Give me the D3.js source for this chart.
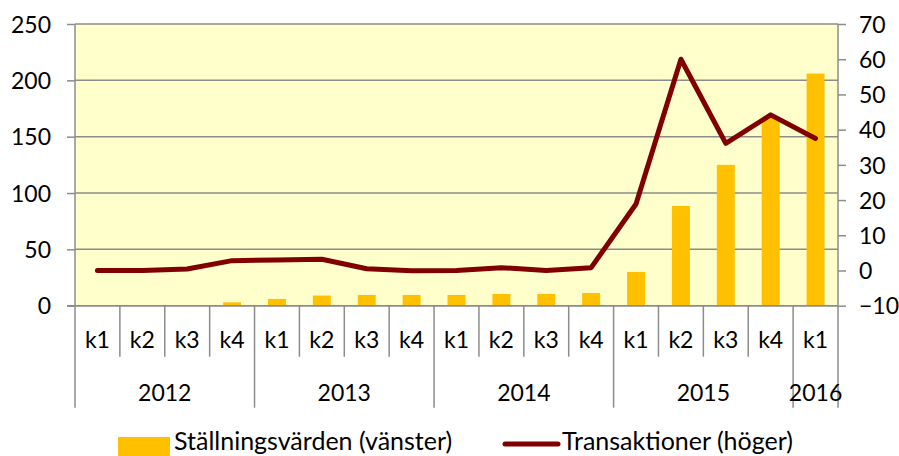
<!DOCTYPE html>
<html>
<head>
<meta charset="utf-8">
<script src="https://cdn.jsdelivr.net/npm/d3@7"></script>
<style>
  body { margin: 0; background: #fff; }
  svg { display: block; }
  text { font-family: Lato, "Open Sans", sans-serif; fill: #000; }
</style>
</head>
<body>
<svg id="chart" width="899" height="456"></svg>
<script>
// quarters and years
var quarters = ["k1","k2","k3","k4","k1","k2","k3","k4","k1","k2","k3","k4","k1","k2","k3","k4","k1"];
var years = ["2012","2013","2014","2015","2016"];
var yearSpans = [4, 4, 4, 4, 1];

// Ställningsvärden (vänster axel)
var positionValues = [0, 0, 0, 3, 6, 9, 9.5, 9.5, 9.5, 10.4, 10.4, 11.3, 30, 88.5, 125, 167, 206];
// Transaktioner (höger axel)
var transactionValues = [0, 0, 0.4, 2.8, 3.0, 3.2, 0.5, -0.1, 0, 0.8, 0, 0.8, 18.9, 60, 36.1, 44.2, 37.5];

var leftTicks = [0, 50, 100, 150, 200, 250];
var rightTicks = [-10, 0, 10, 20, 30, 40, 50, 60, 70];

var legendLabels = ["Ställningsvärden (vänster)", "Transaktioner (höger)"];

var margin = { left: 75, right: 61, top: 24, bottom: 150 };
var W = 899, H = 456;
var plotW = W - margin.left - margin.right;
var plotH = 305.7 - margin.top;
var tickFont = "23px";

var svg = d3.select("#chart");
var g = svg.append("g").attr("transform", "translate(" + margin.left + "," + margin.top + ")");

var idx = d3.range(quarters.length);
var x = d3.scaleBand().domain(idx).range([0, plotW]).padding(0);
var yL = d3.scaleLinear().domain([0, 250]).range([plotH, 0]);
var yR = d3.scaleLinear().domain([-10, 70]).range([plotH, 0]);

// plot background
g.append("rect")
  .attr("width", plotW).attr("height", plotH)
  .attr("fill", "#ffffcc");

// gridlines
g.selectAll("line.grid")
  .data(leftTicks)
  .enter().append("line")
  .attr("class", "grid")
  .attr("x1", 0).attr("x2", plotW)
  .attr("y1", function(d){ return yL(d); })
  .attr("y2", function(d){ return yL(d); })
  .attr("stroke", "#8c8c8c").attr("stroke-width", 1.5);

// left axis line
g.append("line").attr("x1", 0).attr("x2", 0).attr("y1", 0).attr("y2", plotH)
  .attr("stroke", "#8c8c8c").attr("stroke-width", 1.5);

// left axis
var leftAxis = g.append("g")
  .call(d3.axisLeft(yL).tickValues(leftTicks).tickSize(8).tickPadding(16));
leftAxis.select(".domain").remove();
leftAxis.selectAll("line").attr("stroke", "#8c8c8c").attr("stroke-width", 1.5);
leftAxis.selectAll("text").style("font-size", tickFont).attr("dy", "0.36em");

// right axis
var rightAxis = g.append("g")
  .attr("transform", "translate(" + plotW + ",0)")
  .call(d3.axisRight(yR).tickValues(rightTicks).tickSize(8).tickPadding(13));
rightAxis.select(".domain").attr("stroke", "#8c8c8c").attr("stroke-width", 1.5)
  .attr("d", "M0,0V" + plotH);
rightAxis.selectAll("line").attr("stroke", "#8c8c8c").attr("stroke-width", 1.5);
rightAxis.selectAll("text").style("font-size", tickFont).attr("dy", "0.36em");

// bars
var barW = x.bandwidth() * 0.4;
g.selectAll("rect.bar")
  .data(positionValues)
  .enter().append("rect")
  .attr("class", "bar")
  .attr("x", function(d, i){ return x(i) + (x.bandwidth() - barW) / 2; })
  .attr("y", function(d){ return yL(d); })
  .attr("width", barW)
  .attr("height", function(d){ return plotH - yL(d); })
  .attr("fill", "#ffc000");

// bottom axis line
g.append("line").attr("x1", -8).attr("x2", plotW).attr("y1", plotH).attr("y2", plotH)
  .attr("stroke", "#8c8c8c").attr("stroke-width", 1.5);

// transactions line
var line = d3.line()
  .x(function(d, i){ return x(i) + x.bandwidth() / 2; })
  .y(function(d){ return yR(d); });
g.append("path")
  .datum(transactionValues)
  .attr("d", line)
  .attr("fill", "none")
  .attr("stroke", "#800000")
  .attr("stroke-width", 5)
  .attr("stroke-linejoin", "round")
  .attr("stroke-linecap", "round");

// category axis: quarter dividers and labels
var quarterDrop = 51, yearDrop = 102;
var yearStarts = [];
var acc = 0;
yearSpans.forEach(function(s){ yearStarts.push(acc); acc += s; });

g.selectAll("line.qdiv")
  .data(d3.range(quarters.length + 1))
  .enter().append("line")
  .attr("x1", function(i){ return i < quarters.length ? x(i) : plotW; })
  .attr("x2", function(i){ return i < quarters.length ? x(i) : plotW; })
  .attr("y1", plotH)
  .attr("y2", function(i){
    return (yearStarts.indexOf(i) >= 0 || i === quarters.length) ? plotH + yearDrop : plotH + quarterDrop;
  })
  .attr("stroke", "#8c8c8c").attr("stroke-width", 1.5);

g.selectAll("text.q")
  .data(quarters)
  .enter().append("text")
  .attr("x", function(d, i){ return x(i) + x.bandwidth() / 2; })
  .attr("y", plotH + 42)
  .attr("text-anchor", "middle")
  .style("font-size", tickFont)
  .text(function(d){ return d; });

g.selectAll("text.yr")
  .data(years)
  .enter().append("text")
  .attr("x", function(d, i){
    var s = yearStarts[i];
    return x(s) + x.bandwidth() * yearSpans[i] / 2;
  })
  .attr("y", plotH + 95)
  .attr("text-anchor", "middle")
  .style("font-size", tickFont)
  .text(function(d){ return d; });

// legend
var leg = svg.append("g");
leg.append("rect").attr("x", 118).attr("y", 437).attr("width", 52).attr("height", 19).attr("fill", "#ffc000");
leg.append("text").attr("x", 174).attr("y", 450).style("font-size", "25px").text(legendLabels[0]);
leg.append("line").attr("x1", 505).attr("x2", 558).attr("y1", 444).attr("y2", 444)
  .attr("stroke", "#800000").attr("stroke-width", 5).attr("stroke-linecap", "round");
leg.append("text").attr("x", 562).attr("y", 450).style("font-size", "25px").text(legendLabels[1]);
</script>
</body>
</html>
